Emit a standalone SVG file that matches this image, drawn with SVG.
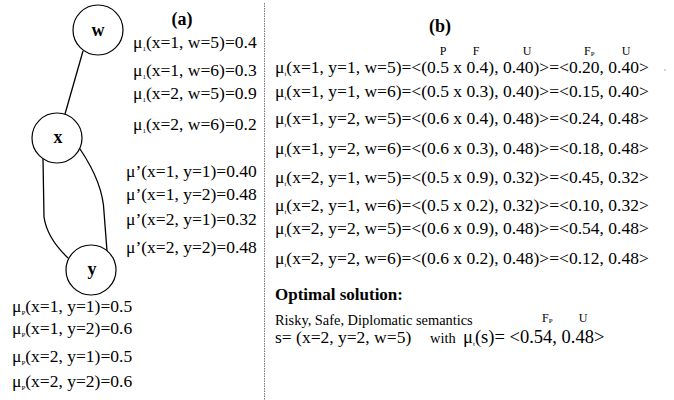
<svg xmlns="http://www.w3.org/2000/svg" width="674" height="400" viewBox="0 0 674 400" font-family="'Liberation Serif', 'Times New Roman', 'DejaVu Serif', serif">
<style>
text{font-family:'Liberation Serif','Times New Roman','DejaVu Serif',serif;fill:#000}
.t{font-size:17.5px}
.h{font-size:18px;font-weight:bold}
.n{font-size:18px;font-weight:bold;text-anchor:middle}
.s{font-size:7px}
.lab{font-size:12px}
.lab2{font-size:7px}
.sm{font-size:14.4px}
.b{font-size:17px;font-weight:bold}
circle.node{fill:#fff;stroke:#000;stroke-width:1.2}
.edge{fill:none;stroke:#000;stroke-width:1.3}
.sep{stroke:#777;stroke-width:1;stroke-dasharray:1.5,1}
</style>
<line class="sep" x1="264.5" y1="3" x2="264.5" y2="400"/>
<g id="connectors">
<line class="edge" x1="83" y1="51" x2="65" y2="114"/>
<path class="edge" d="M43,159 L44,217 Q47,238 68,258"/>
<path class="edge" d="M80,149 Q103,183 104,212 L107,251"/>
</g>
<g id="node-w"><circle class="node" cx="98" cy="30" r="25"/><text class="n" x="98" y="36">w</text></g>
<g id="node-x"><circle class="node" cx="57" cy="138" r="25"/><text class="n" x="58" y="143">x</text></g>
<g id="node-y"><circle class="node" cx="91" cy="270" r="25"/><text class="n" x="92" y="275">y</text></g>

<g id="panel-a">
<text class="h" x="182" y="25" text-anchor="middle">(a)</text>
<text class="t" x="133" y="48">μ<tspan class="s" dy="3">1</tspan><tspan dy="-3">(x=1, w=5)=0.4</tspan></text>
<text class="t" x="133" y="76">μ<tspan class="s" dy="3">1</tspan><tspan dy="-3">(x=1, w=6)=0.3</tspan></text>
<text class="t" x="133" y="99">μ<tspan class="s" dy="3">1</tspan><tspan dy="-3">(x=2, w=5)=0.9</tspan></text>
<text class="t" x="133" y="130">μ<tspan class="s" dy="3">1</tspan><tspan dy="-3">(x=2, w=6)=0.2</tspan></text>
<text class="t" x="126" y="177">μ’(x=1, y=1)=0.40</text>
<text class="t" x="126" y="200">μ’(x=1, y=2)=0.48</text>
<text class="t" x="126" y="225">μ’(x=2, y=1)=0.32</text>
<text class="t" x="126" y="253">μ’(x=2, y=2)=0.48</text>
<text class="t" x="12" y="312">μ<tspan class="s" dy="3">P</tspan><tspan dy="-3">(x=1, y=1)=0.5</tspan></text>
<text class="t" x="12" y="334">μ<tspan class="s" dy="3">P</tspan><tspan dy="-3">(x=1, y=2)=0.6</tspan></text>
<text class="t" x="12" y="362">μ<tspan class="s" dy="3">P</tspan><tspan dy="-3">(x=2, y=1)=0.5</tspan></text>
<text class="t" x="12" y="387">μ<tspan class="s" dy="3">P</tspan><tspan dy="-3">(x=2, y=2)=0.6</tspan></text>
</g>

<g id="panel-b">
<text class="h" x="440" y="32" text-anchor="middle">(b)</text>
<text class="lab" x="443" y="55" text-anchor="middle">P</text>
<text class="lab" x="476" y="55" text-anchor="middle">F</text>
<text class="lab" x="527" y="55" text-anchor="middle">U</text>
<text class="lab" x="584" y="55">F<tspan class="lab2" dy="1">P</tspan></text>
<text class="lab" x="626" y="55" text-anchor="middle">U</text>
<text class="t" x="275" y="73">μ<tspan class="s" dy="3">t</tspan><tspan dy="-3">(x=1, y=1, w=5)=&lt;(0.5 x 0.4), 0.40)&gt;=&lt;0.20, 0.40&gt;</tspan></text>
<text class="t" x="275" y="97">μ<tspan class="s" dy="3">t</tspan><tspan dy="-3">(x=1, y=1, w=6)=&lt;(0.5 x 0.3), 0.40)&gt;=&lt;0.15, 0.40&gt;</tspan></text>
<text class="t" x="275" y="124">μ<tspan class="s" dy="3">t</tspan><tspan dy="-3">(x=1, y=2, w=5)=&lt;(0.6 x 0.4), 0.48)&gt;=&lt;0.24, 0.48&gt;</tspan></text>
<text class="t" x="275" y="154">μ<tspan class="s" dy="3">t</tspan><tspan dy="-3">(x=1, y=2, w=6)=&lt;(0.6 x 0.3), 0.48)&gt;=&lt;0.18, 0.48&gt;</tspan></text>
<text class="t" x="275" y="183">μ<tspan class="s" dy="3">t</tspan><tspan dy="-3">(x=2, y=1, w=5)=&lt;(0.5 x 0.9), 0.32)&gt;=&lt;0.45, 0.32&gt;</tspan></text>
<text class="t" x="275" y="211">μ<tspan class="s" dy="3">t</tspan><tspan dy="-3">(x=2, y=1, w=6)=&lt;(0.5 x 0.2), 0.32)&gt;=&lt;0.10, 0.32&gt;</tspan></text>
<text class="t" x="275" y="234">μ<tspan class="s" dy="3">t</tspan><tspan dy="-3">(x=2, y=2, w=5)=&lt;(0.6 x 0.9), 0.48)&gt;=&lt;0.54, 0.48&gt;</tspan></text>
<text class="t" x="275" y="264">μ<tspan class="s" dy="3">t</tspan><tspan dy="-3">(x=2, y=2, w=6)=&lt;(0.6 x 0.2), 0.48)&gt;=&lt;0.12, 0.48&gt;</tspan></text>
<circle cx="665" cy="70" r="0.8" fill="#999"/>
<text class="b" x="275" y="300">Optimal solution:</text>
<text class="sm" x="275" y="325">Risky, Safe, Diplomatic semantics</text>
<text class="lab" x="542" y="322">F<tspan class="lab2" dy="1">P</tspan></text>
<text class="lab" x="583" y="322" text-anchor="middle">U</text>
<text class="t" x="275" y="343">s= (x=2, y=2, w=5)</text>
<text class="sm" x="430" y="343">with</text>
<text x="463" y="343" font-size="18.5">μ<tspan class="s" dy="3">t</tspan><tspan dy="-3">(s)= &lt;0.54, 0.48&gt;</tspan></text>
</g>
</svg>
